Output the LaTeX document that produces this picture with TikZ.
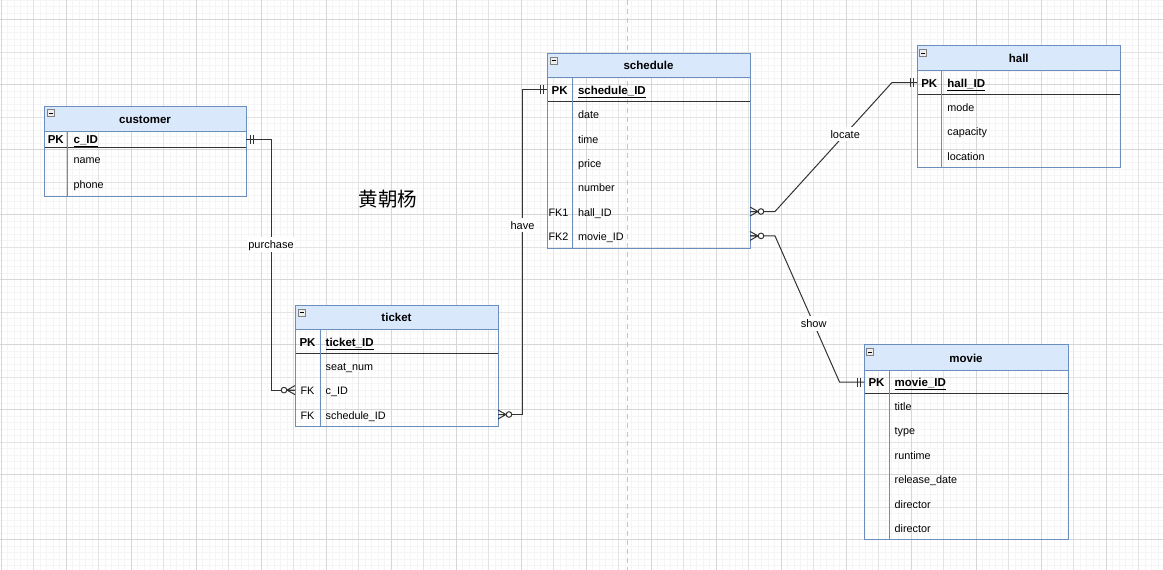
\documentclass[tikz,border=0pt]{standalone}
\usepackage{fontspec}
\setmainfont{Liberation Sans}
\newfontfamily\cjkfont{Noto Sans CJK SC}
\usetikzlibrary{calc,fit}
\definecolor{tblc}{HTML}{6C8EBF}
\definecolor{hdrc}{HTML}{DAE8FC}
\definecolor{gminor}{HTML}{F5F5F5}
\definecolor{gmid}{HTML}{E3E3E3}
\definecolor{gmajor}{HTML}{D6D6D6}
\definecolor{pagec}{HTML}{C4C4C4}
\definecolor{linec}{HTML}{333333}
\definecolor{iconc}{HTML}{EEEEEE}
\tikzset{
 frame/.style={draw=tblc, line width=1pt, inner sep=0pt, outer sep=0pt},
 ttl/.style={font=\bfseries\fontsize{11.5}{13}\selectfont, inner sep=0pt, text height=11pt, text depth=1.5pt},
 keyt/.style={font=\bfseries\fontsize{11.5}{13}\selectfont, inner sep=0pt, text height=12pt, text depth=2.5pt},
 fkt/.style={font=\fontsize{10.8}{13}\selectfont, inner sep=0pt, text height=12pt, text depth=2.5pt},
 fld/.style={font=\fontsize{10.8}{13}\selectfont, inner sep=0pt, anchor=west, text height=12pt, text depth=2.5pt},
 pkf/.style={fld, font=\bfseries\fontsize{11.5}{13}\selectfont},
 hdrline/.style={draw=tblc, line width=1pt},
 sepline/.style={draw=linec, line width=1pt},
 icon/.style={draw=gray, fill=iconc, line width=0.6pt},
 conn/.style={draw=linec, line width=1pt},
 lbl/.style={fill=white, inner sep=1.5pt, font=\fontsize{11}{13}\selectfont, text=black, text height=10pt, text depth=1.5pt},
 mandone/.pic={\draw[linec, line width=1pt] (4,-4.5)--(4,4.5) (7,-4.5)--(7,4.5);},
 zeromany/.pic={\draw[linec, line width=1pt] (0,-4.5)--(8,0)--(0,4.5) (0,0)--(8,0);
   \draw[linec, line width=1pt, fill=white] (11,0) circle[radius=2.8pt];},
}
\begin{document}
\begin{tikzpicture}[x=1pt,y=-1pt]
\useasboundingbox (0,0) rectangle (1163,570);
\fill[white] (0,0) rectangle (1163,570);
% grid
\foreach \i in {0,...,179} {\draw[gminor, line width=0.6pt] ({1+6.5*\i},0) -- ++(0,570);}
\foreach \i in {0,...,88} {\draw[gminor, line width=0.6pt] (0,{6.5*\i}) -- ++(1163,0);}
\foreach \i in {0,...,35} {\draw[gmid, line width=0.7pt] ({1+32.5*\i},0) -- ++(0,570);}
\foreach \i in {0,...,17} {\draw[gmid, line width=0.7pt] (0,{19.5+32.5*\i}) -- ++(1163,0);}
\foreach \i in {0,...,17} {\draw[gmajor, line width=0.7pt] ({1+65*\i},0) -- ++(0,570);}
\foreach \i in {0,...,8} {\draw[gmajor, line width=0.7pt] (0,{19.5+65*\i}) -- ++(1163,0);}
% page break
\draw[pagec, line width=1pt, dash pattern=on 5pt off 4pt] (627,0) -- (627,570);

% ---------- customer ----------
\fill[hdrc] (44,106) rectangle (246,131);
\draw[hdrline] (44,131) -- (246,131);
\draw[sepline] (44,147) -- (246,147);
\draw[hdrline] (67.5,131) -- (67.5,196);
\node[frame, fit={(44,106) (246,196)}] (customer) {};
\draw[icon] (47,109.5) rectangle ++(7,7);
\draw[line width=0.7pt] (48.5,113) -- (52.5,113);
\node[ttl] (customer-t) at (145,118.5) {customer};
\node[keyt] (customer-pk) at (55.75,139) {PK};
\node[pkf] (customer-cid) at (73.5,139) {\underline{c\_ID}};
\node[fld] (customer-name) at (73.5,159.2) {name};
\node[fld] (customer-phone) at (73.5,183.6) {phone};

% ---------- ticket ----------
\fill[hdrc] (295,305) rectangle (498,329.5);
\draw[hdrline] (295,329.5) -- (498,329.5);
\draw[sepline] (295,353.5) -- (498,353.5);
\draw[hdrline] (320,329.5) -- (320,426.7);
\node[frame, fit={(295,305) (498,426.7)}] (ticket) {};
\draw[icon] (298,309) rectangle ++(7,7);
\draw[line width=0.7pt] (299.5,312.5) -- (303.5,312.5);
\node[ttl] (ticket-t) at (396.5,317.2) {ticket};
\node[keyt] (ticket-pk) at (307.5,341.5) {PK};
\node[pkf] (ticket-id) at (325.5,341.5) {\underline{ticket\_ID}};
\node[fld] (ticket-seat) at (325.5,365.7) {seat\_num};
\node[fkt] (ticket-fk1) at (307.5,390.1) {FK};
\node[fld] (ticket-cid) at (325.5,390.1) {c\_ID};
\node[fkt] (ticket-fk2) at (307.5,414.5) {FK};
\node[fld] (ticket-sid) at (325.5,414.5) {schedule\_ID};

% ---------- schedule ----------
\fill[hdrc] (547,53) rectangle (750,77.5);
\draw[hdrline] (547,77.5) -- (750,77.5);
\draw[sepline] (547,101.7) -- (750,101.7);
\draw[hdrline] (572.3,77.5) -- (572.3,248.1);
\node[frame, fit={(547,53) (750,248.1)}] (schedule) {};
\draw[icon] (550,57) rectangle ++(7,7);
\draw[line width=0.7pt] (551.5,60.5) -- (555.5,60.5);
\node[ttl] (schedule-t) at (648.5,65.2) {schedule};
\node[keyt] (schedule-pk) at (559.6,89.6) {PK};
\node[pkf] (schedule-id) at (577.8,89.6) {\underline{schedule\_ID}};
\node[fld] (schedule-date) at (577.8,113.9) {date};
\node[fld] (schedule-time) at (577.8,138.3) {time};
\node[fld] (schedule-price) at (577.8,162.7) {price};
\node[fld] (schedule-number) at (577.8,187.1) {number};
\node[fkt] (schedule-fk1) at (558.5,211.5) {FK1};
\node[fld] (schedule-hall) at (577.8,211.5) {hall\_ID};
\node[fkt] (schedule-fk2) at (558.5,235.9) {FK2};
\node[fld] (schedule-movie) at (577.8,235.9) {movie\_ID};

% ---------- hall ----------
\fill[hdrc] (917,45.5) rectangle (1120.5,70.5);
\draw[hdrline] (917,70.5) -- (1120.5,70.5);
\draw[sepline] (917,94.5) -- (1120.5,94.5);
\draw[hdrline] (941.7,70.5) -- (941.7,167.7);
\node[frame, fit={(917,45.5) (1120.5,167.7)}] (hall) {};
\draw[icon] (919.5,49.5) rectangle ++(7,7);
\draw[line width=0.7pt] (921,53) -- (925,53);
\node[ttl] (hall-t) at (1018.75,58) {hall};
\node[keyt] (hall-pk) at (929.3,82.5) {PK};
\node[pkf] (hall-id) at (947.2,82.5) {\underline{hall\_ID}};
\node[fld] (hall-mode) at (947.2,106.7) {mode};
\node[fld] (hall-capacity) at (947.2,131.1) {capacity};
\node[fld] (hall-location) at (947.2,155.5) {location};

% ---------- movie ----------
\fill[hdrc] (864,344.5) rectangle (1068,370.5);
\draw[hdrline] (864,370.5) -- (1068,370.5);
\draw[sepline] (864,393.5) -- (1068,393.5);
\draw[hdrline] (889,370.5) -- (889,539.9);
\node[frame, fit={(864,344.5) (1068,539.9)}] (movie) {};
\draw[icon] (866.5,348.5) rectangle ++(7,7);
\draw[line width=0.7pt] (868,352) -- (872,352);
\node[ttl] (movie-t) at (966,357.5) {movie};
\node[keyt] (movie-pk) at (876.5,382) {PK};
\node[pkf] (movie-id) at (894.5,382) {\underline{movie\_ID}};
\node[fld] (movie-title) at (894.5,405.7) {title};
\node[fld] (movie-type) at (894.5,430.1) {type};
\node[fld] (movie-runtime) at (894.5,454.5) {runtime};
\node[fld] (movie-release) at (894.5,478.9) {release\_date};
\node[fld] (movie-dir1) at (894.5,503.3) {director};
\node[fld] (movie-dir2) at (894.5,527.7) {director};

% ---------- connectors ----------
\draw[conn] (customer.east |- customer-cid) -- ++(25,0) coordinate (c1)
  -- (c1 |- ticket-cid) node[lbl, pos=0.42] {purchase} -- (ticket.west |- ticket-cid);
\draw[conn] (ticket.east |- ticket-sid) -- ++(24.5,0) coordinate (c2)
  -- (c2 |- schedule-id) node[lbl, pos=0.583] {have} -- (schedule.west |- schedule-id);
\draw[conn] (schedule.east |- schedule-hall) -- ++(25,0)
  -- ($(hall.west |- hall-id)+(-25,0)$) node[lbl, pos=0.6] {locate} -- (hall.west |- hall-id);
\draw[conn] (schedule.east |- schedule-movie) -- ++(25,0)
  -- ($(movie.west |- movie-id)+(-24.5,0)$) node[lbl, pos=0.6] {show} -- (movie.west |- movie-id);

% ends
\pic at (customer.east |- customer-cid) {mandone};
\pic[rotate=180] at (ticket.west |- ticket-cid) {zeromany};
\pic at (ticket.east |- ticket-sid) {zeromany};
\pic[rotate=180] at (schedule.west |- schedule-id) {mandone};
\pic at (schedule.east |- schedule-hall) {zeromany};
\pic[rotate=180] at (hall.west |- hall-id) {mandone};
\pic at (schedule.east |- schedule-movie) {zeromany};
\pic[rotate=180] at (movie.west |- movie-id) {mandone};

% author
\node[font=\cjkfont\fontsize{19.5}{22}\selectfont, inner sep=0pt] (author) at (388,199) {黄朝杨};
\end{tikzpicture}
\end{document}
